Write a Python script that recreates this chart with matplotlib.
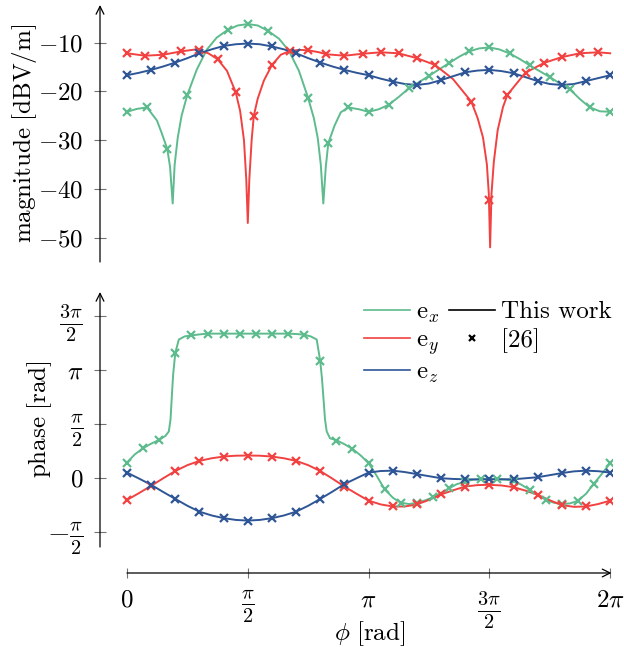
import numpy as np
import matplotlib
matplotlib.use('Agg')
import matplotlib.pyplot as plt
from matplotlib.lines import Line2D

plt.rcParams['font.family'] = ['cmr10']
plt.rcParams['mathtext.fontset'] = 'cm'
plt.rcParams['axes.formatter.use_mathtext'] = True
plt.rcParams['font.size'] = 18

pi = np.pi
nan = np.nan

c_x = '#5DBB8D'
c_y = '#F24141'
c_z = '#2E5696'

# ---- magnitude [dBV/m], "This work" (lines) ----
mag_ex_phi = [0, 0.13, 0.26, 0.39, 0.45, 0.524, 0.56, 0.594, 0.62, 0.66,
              0.71, 0.785, 0.906, 1.036, 1.166, 1.309, 1.44, 1.571, 1.70, 1.833,
              1.976, 2.106, 2.236, 2.356, 2.43, 2.48, 2.52, 2.553, 2.585, 2.618,
              2.70, 2.78, 2.88, 3.02, 3.14, 3.27, 3.40, 3.53, 3.665, 3.80,
              3.93, 4.06, 4.19, 4.32, 4.45, 4.58, 4.71, 4.84, 4.97, 5.11,
              5.24, 5.37, 5.50, 5.63, 5.76, 5.89, 6.02, 6.15, 6.283]
mag_ex = [-24.2, -23.6, -23.3, -26.0, -28.5, -31.8, -35.5, -43.0, -35.0, -29.5,
          -25.0, -20.7, -15.6, -11.5, -9.0, -7.4, -6.5, -6.2, -6.5, -7.6,
          -9.2, -11.7, -15.8, -21.4, -25.5, -29.5, -35.0, -43.0, -35.5, -30.6,
          -27.0, -24.3, -23.3, -23.7, -24.2, -23.7, -22.8, -21.2, -19.4, -18.1,
          -16.8, -15.5, -14.2, -12.9, -11.8, -11.2, -11.0, -11.4, -12.2, -13.4,
          -14.7, -15.9, -17.1, -18.4, -19.6, -21.6, -23.3, -24.1, -24.2]

mag_ey_phi = [0, 0.236, 0.471, 0.707, 0.90, 1.057, 1.178, 1.30, 1.414, 1.471,
              1.521, 1.551, 1.571, 1.591, 1.621, 1.649, 1.70, 1.78, 1.885, 2.0,
              2.12, 2.25, 2.36, 2.50, 2.59, 2.83, 3.06, 3.30, 3.53, 3.77,
              4.006, 4.24, 4.477, 4.56, 4.63, 4.68, 4.705, 4.722, 4.74, 4.77,
              4.82, 4.89, 4.948, 5.18, 5.42, 5.65, 5.89, 6.126, 6.283]
mag_ey = [-12.2, -12.7, -12.5, -11.8, -11.4, -12.2, -13.4, -15.8, -20.2, -24.0,
          -30.0, -38.0, -47.0, -38.0, -30.0, -25.0, -21.5, -17.8, -14.6, -12.5,
          -11.7, -11.5, -11.6, -12.0, -12.4, -12.7, -12.3, -12.0, -12.2, -13.2,
          -14.6, -17.5, -22.1, -25.5, -29.5, -35.0, -41.0, -52.0, -41.0, -34.5,
          -28.0, -23.2, -20.7, -16.2, -14.2, -13.0, -12.2, -12.0, -12.2]

# sampled every pi/20
mag_ez = [-16.7, -16.2, -15.6, -14.9, -14.1, -13.2, -12.2, -11.4, -10.7, -10.35,
          -10.2, -10.35, -10.8, -11.4, -12.2, -13.2, -14.1, -14.9, -15.6, -16.2,
          -16.7, -17.4, -18.0, -18.5, -18.7, -18.4, -17.7, -16.9, -16.1, -15.75,
          -15.6, -15.85, -16.3, -17.1, -17.9, -18.5, -18.7, -18.5, -17.9, -17.3,
          -16.7]

# ---- magnitude, reference [26] (markers) ----
mag_ex_ref = [-24.2, -23.3, -31.8, -20.7, nan, -7.4, -6.2, -7.6, nan, -21.4,
              -30.6, -23.3, -24.2, -22.8, -19.4, -16.8, -14.2, -11.8, -11.0, -12.2,
              -14.7, -17.1, -19.6, -23.3, -24.2]                      # step pi/12
mag_ey_ref = [-12.2, -12.7, -12.5, -11.7, -11.5, -13.4, -20.2, -25.0, -14.6, -11.7,
              -11.6, -12.4, -12.7, -12.3, -12.0, -12.2, -13.2, -14.6, nan, -22.1,
              -42.3, -20.7, -16.2, -14.2, -13.0, -12.2, -12.0]        # step 3pi/40
mag_ez_ref = [-16.7, -15.6, -14.1, -12.2, -10.7, -10.2, -10.8, -12.2, -14.1, -15.6,
              -16.7, -18.0, -18.7, -17.7, -16.1, -15.6, -16.3, -17.9, -18.7, -17.9,
              -16.7]                                                  # step pi/10

# ---- phase [rad], "This work" (lines) ----
ph_ex_phi = [0, 0.10, 0.209, 0.31, 0.419, 0.50, 0.544, 0.566, 0.583, 0.60,
             0.628, 0.674, 0.75, 0.838, 0.95, 1.047, 2.094, 2.20, 2.304, 2.39,
             2.467, 2.513, 2.535, 2.553, 2.575, 2.597, 2.64, 2.72, 2.827, 2.932,
             3.04, 3.142, 3.25, 3.35, 3.46, 3.56, 3.67, 3.77, 3.88, 3.98,
             4.08, 4.19, 4.29, 4.40, 4.50, 4.61, 4.71, 4.82, 4.92, 5.03,
             5.13, 5.24, 5.34, 5.45, 5.55, 5.65, 5.76, 5.86, 5.97, 6.07,
             6.18, 6.283]
ph_ex = [0.446, 0.68, 0.863, 0.99, 1.106, 1.22, 1.35, 1.70, 2.37, 3.0,
         3.63, 4.02, 4.11, 4.14, 4.17, 4.19, 4.19, 4.18, 4.16, 4.11,
         4.02, 3.39, 2.9, 2.37, 1.70, 1.35, 1.15, 1.10, 0.98, 0.844,
         0.65, 0.427, 0.05, -0.33, -0.58, -0.72, -0.76, -0.72, -0.65, -0.56,
         -0.44, -0.30, -0.18, -0.11, -0.05, -0.03, -0.03, -0.04, -0.05, -0.08,
         -0.20, -0.35, -0.50, -0.64, -0.72, -0.76, -0.74, -0.67, -0.46, -0.17,
         0.13, 0.43]

# sampled every pi/20
ph_ey = [-0.64, -0.44, -0.23, -0.01, 0.20, 0.37, 0.495, 0.57, 0.62, 0.645,
         0.65, 0.645, 0.62, 0.57, 0.495, 0.37, 0.20, -0.02, -0.25, -0.46,
         -0.66, -0.77, -0.83, -0.83, -0.77, -0.64, -0.48, -0.36, -0.25, -0.21,
         -0.20, -0.22, -0.27, -0.37, -0.49, -0.65, -0.79, -0.84, -0.83, -0.76,
         -0.66]
ph_ez = [0.155, -0.02, -0.20, -0.41, -0.61, -0.81, -0.98, -1.09, -1.17, -1.22,
         -1.24, -1.22, -1.17, -1.09, -0.98, -0.81, -0.61, -0.40, -0.18, -0.01,
         0.155, 0.20, 0.21, 0.17, 0.11, 0.05, -0.01, -0.03, -0.04, -0.045,
         -0.04, -0.04, -0.04, -0.01, 0.02, 0.08, 0.14, 0.19, 0.21, 0.195,
         0.155]

# ---- phase, reference [26] (markers) ----
ph_ex_ref = [0.446, 0.863, 1.106, 3.63, 4.14, 4.19, 4.19, 4.19, 4.19, 4.19,
             4.19, 4.16, 3.39, 1.086, 0.844, 0.427, -0.33, -0.72, -0.72, -0.56,
             -0.30, -0.11, -0.03, -0.04, -0.08, -0.35, -0.64, -0.76, -0.67, -0.17,
             0.43]                                                    # step pi/15
ph_ey_ref = [-0.64, -0.23, 0.20, 0.495, 0.62, 0.65, 0.62, 0.495, 0.20, -0.25,
             -0.66, -0.83, -0.77, -0.48, -0.25, -0.20, -0.27, -0.49, -0.79, -0.83,
             -0.66]                                                   # step pi/10
ph_ez_ref = [0.155, -0.20, -0.61, -0.98, -1.17, -1.24, -1.17, -0.98, -0.61, -0.18,
             0.155, 0.21, 0.11, -0.01, -0.04, -0.04, -0.04, 0.02, 0.14, 0.21,
             0.155]

x_ticks = [0, pi / 2, pi, 3 * pi / 2, 2 * pi]
x_ticklabels = [r'$0$', r'$\frac{\pi}{2}$', r'$\pi$', r'$\frac{3\pi}{2}$', r'$2\pi$']
mag_ticks = [-50, -40, -30, -20, -10]
ph_ticks = [-pi / 2, 0, pi / 2, pi, 3 * pi / 2]
ph_ticklabels = [r'$-\frac{\pi}{2}$', r'$0$', r'$\frac{\pi}{2}$', r'$\pi$', r'$\frac{3\pi}{2}$']

grid20 = np.linspace(0, 2 * pi, 41)
step12 = np.arange(25) * pi / 12
step40 = np.arange(27) * 3 * pi / 40
step10 = np.arange(21) * pi / 10
step15 = np.arange(31) * pi / 15

W, H = 624, 647
fig = plt.figure(figsize=(W / 100, H / 100), dpi=100)
left, width = 100 / W, 512 / W
ax1 = fig.add_axes([left, 1 - 262 / H, width, 257 / H])
ax2 = fig.add_axes([left, 1 - 547 / H, width, 255 / H])
ax3 = fig.add_axes([left, 1 - 573 / H, width, 0.001])

xlim = (-0.351, 6.307)
lw, ms, mew = 1.4, 6, 1.6

for ax in (ax1, ax2):
    ax.set_xlim(*xlim)
    for s in ax.spines.values():
        s.set_visible(False)
    ax.set_xticks([])
    ax.tick_params(axis='y', direction='inout', length=8, width=0.8,
                   color='0.45', pad=8)
    ax.annotate('', xy=(0, 1), xycoords='axes fraction', xytext=(0, 0),
                arrowprops=dict(arrowstyle='->', lw=0.9, color='black',
                                shrinkA=0, shrinkB=0, mutation_scale=14))

# magnitude
ax1.plot(mag_ex_phi, mag_ex, color=c_x, lw=lw)
ax1.plot(mag_ey_phi, mag_ey, color=c_y, lw=lw)
ax1.plot(grid20, mag_ez, color=c_z, lw=lw)
ax1.plot(step12, mag_ex_ref, ls='none', marker='x', ms=ms, mew=mew, color=c_x)
ax1.plot(step40, mag_ey_ref, ls='none', marker='x', ms=ms, mew=mew, color=c_y)
ax1.plot(step10, mag_ez_ref, ls='none', marker='x', ms=ms, mew=mew, color=c_z)
ax1.set_ylim(-55.0, -2.3)
ax1.set_yticks(mag_ticks)
ax1.set_yticklabels([r'$%d$' % v for v in mag_ticks])
ax1.set_ylabel(r'$\mathrm{magnitude\ [dBV/m]}$')
ax1.yaxis.set_label_coords(-0.12, 0.5)

# phase
ax2.plot(ph_ex_phi, ph_ex, color=c_x, lw=lw)
ax2.plot(grid20, ph_ey, color=c_y, lw=lw)
ax2.plot(grid20, ph_ez, color=c_z, lw=lw)
ax2.plot(step15, ph_ex_ref, ls='none', marker='x', ms=ms, mew=mew, color=c_x)
ax2.plot(step10, ph_ey_ref, ls='none', marker='x', ms=ms, mew=mew, color=c_y)
ax2.plot(step10, ph_ez_ref, ls='none', marker='x', ms=ms, mew=mew, color=c_z)
ax2.set_ylim(-2.007, 5.40)
ax2.set_yticks(ph_ticks)
ax2.set_yticklabels(ph_ticklabels)
ax2.set_ylabel(r'$\mathrm{phase\ [rad]}$')
ax2.yaxis.set_label_coords(-0.09, 0.5)

# shared x axis drawn below
ax3.set_xlim(*xlim)
ax3.set_ylim(0, 1)
for s in ax3.spines.values():
    s.set_visible(False)
ax3.set_yticks([])
ax3.set_xticks(x_ticks)
ax3.set_xticklabels(x_ticklabels)
ax3.tick_params(axis='x', direction='inout', length=7, width=0.8,
                color='0.45', pad=8)
ax3.annotate('', xy=(6.30, 0), xycoords=('data', 'axes fraction'),
             xytext=(0, 0), textcoords=('data', 'axes fraction'),
             arrowprops=dict(arrowstyle='->', lw=0.9, color='black',
                             shrinkA=0, shrinkB=0, mutation_scale=14))

# fraction labels are drawn larger so that their parts match the plain ones
for lab in ax3.get_xticklabels() + ax2.get_yticklabels():
    if 'frac' in lab.get_text():
        lab.set_fontsize(21)

fig.text(370 / W, 1 - 640 / H, r'$\phi\ \mathrm{[rad]}$', ha='center', va='baseline',
         fontsize=18)

handles = [Line2D([], [], color=c_x, lw=1.2),
           Line2D([], [], color=c_y, lw=1.2),
           Line2D([], [], color=c_z, lw=1.2),
           Line2D([], [], color='black', lw=1.2),
           Line2D([], [], ls='none', marker='x', ms=5, mew=1.6, color='black'),
           Line2D([], [], ls='none')]
labels = [r'$\mathrm{e}_x$', r'$\mathrm{e}_y$', r'$\mathrm{e}_z$',
          'This work', '[26]', '']
fig.legend(handles, labels, ncol=2, loc='upper left',
           bbox_to_anchor=(364 / W, 1 - 301 / H), frameon=False,
           borderpad=0, borderaxespad=0, handlelength=1.85, handletextpad=0.25,
           columnspacing=0.35, labelspacing=0.18, fontsize=18)

fig.savefig('out.png', dpi=100)
